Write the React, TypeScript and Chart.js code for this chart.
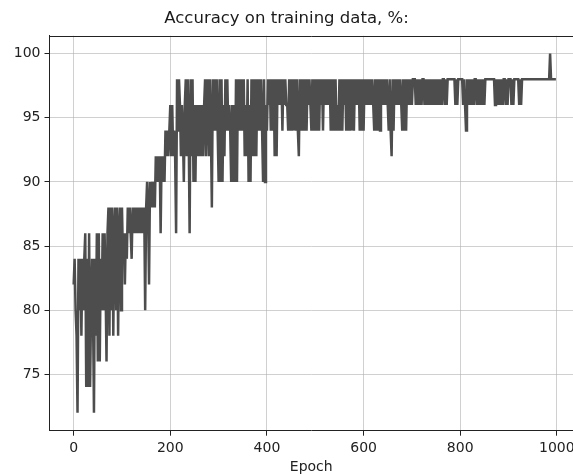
import React, { useEffect, useRef } from "react";
import { Chart, registerables } from "chart.js";

Chart.register(...registerables);

const TITLE = "Accuracy on training data, %:";
const X_LABEL = "Epoch";
const EPOCH_STEP = 2;
const X_TICKS = [0, 200, 400, 600, 800, 1000];
const Y_TICKS = [75, 80, 85, 90, 95, 100];

// accuracy (%) sampled every EPOCH_STEP epochs, epoch 0 .. 998
const ACCURACY = [
  82, 84, 80, 78, 72, 84, 80, 84, 78, 84, 80, 84, 86, 74, 84, 74, 86, 74, 80, 84, 80, 72, 84, 78, 86,
  76, 86, 76, 84, 80, 86, 80, 86, 82, 76, 86, 88, 78, 88, 80, 88, 78, 86, 88, 80, 88, 78, 86, 88, 80,
  88, 84, 86, 82, 86, 84, 88, 86, 88, 86, 84, 88, 86, 88, 86, 88, 86, 88, 86, 88, 86, 88, 86, 88, 80,
  88, 90, 88, 82, 90, 88, 90, 88, 90, 88, 92, 90, 92, 90, 92, 86, 92, 90, 92, 90, 94, 92, 94, 92, 94,
  96, 92, 96, 92, 94, 92, 86, 98, 94, 98, 96, 92, 96, 94, 90, 96, 98, 92, 98, 94, 86, 98, 92, 98, 90,
  96, 90, 96, 92, 96, 92, 96, 92, 96, 92, 96, 98, 92, 98, 96, 92, 98, 94, 88, 98, 94, 98, 94, 98, 94,
  90, 98, 90, 98, 90, 96, 92, 98, 94, 98, 94, 96, 94, 90, 96, 90, 96, 90, 98, 90, 98, 94, 98, 94, 98,
  94, 98, 92, 96, 92, 98, 90, 96, 90, 98, 92, 98, 92, 98, 92, 98, 94, 98, 94, 98, 94, 90, 98, 90, 96,
  94, 98, 96, 98, 94, 98, 94, 98, 92, 98, 92, 98, 96, 98, 96, 98, 94, 98, 96, 98, 96, 96, 94, 98, 94,
  98, 94, 98, 94, 98, 94, 98, 94, 92, 98, 94, 98, 94, 98, 94, 98, 94, 98, 96, 98, 96, 94, 98, 94, 98,
  94, 98, 94, 98, 94, 98, 96, 98, 94, 98, 96, 98, 96, 98, 96, 98, 94, 98, 94, 98, 94, 98, 94, 96, 94,
  98, 94, 98, 94, 98, 96, 98, 94, 98, 94, 98, 94, 98, 94, 98, 94, 98, 96, 98, 96, 98, 94, 98, 94, 98,
  94, 98, 96, 98, 96, 98, 96, 98, 96, 98, 96, 94, 98, 94, 98, 94, 98, 94, 98, 96, 98, 96, 98, 96, 98,
  96, 94, 98, 94, 92, 98, 94, 98, 96, 98, 96, 98, 96, 98, 96, 94, 98, 94, 98, 94, 98, 96, 98, 96, 98,
  96, 98, 98, 98, 96, 98, 96, 98, 96, 98, 96, 98, 98, 96, 98, 96, 98, 96, 98, 96, 98, 96, 98, 96, 98,
  96, 98, 96, 98, 96, 98, 96, 98, 98, 96, 98, 96, 98, 98, 98, 98, 98, 98, 98, 98, 96, 98, 96, 98, 98,
  98, 98, 98, 96, 98, 96, 94, 98, 96, 98, 96, 98, 96, 98, 96, 98, 98, 96, 98, 96, 98, 96, 98, 96, 98,
  96, 98, 98, 98, 98, 98, 98, 98, 98, 98, 98, 96, 98, 96, 98, 96, 98, 96, 98, 96, 98, 98, 96, 98, 96,
  98, 98, 98, 96, 98, 96, 98, 98, 98, 98, 98, 96, 98, 96, 98, 98, 98, 98, 98, 98, 98, 98, 98, 98, 98,
  98, 98, 98, 98, 98, 98, 98, 98, 98, 98, 98, 98, 98, 98, 98, 98, 98, 98, 100, 98, 98, 98, 98, 98, 98,
];

const FONT = "'DejaVu Sans', sans-serif";
const INK = "#222222";
const GRID = "rgba(176,176,176,0.6)";

export default function App() {
  const ref = useRef<HTMLCanvasElement>(null);

  useEffect(() => {
    const canvas = ref.current;
    if (!canvas) return;
    const points = ACCURACY.map((y, i) => ({ x: i * EPOCH_STEP, y }));

    const frame = {
      id: "frame",
      afterDraw(chart: any) {
        const { ctx, chartArea } = chart;
        ctx.save();
        ctx.strokeStyle = INK;
        ctx.lineWidth = 1;
        ctx.beginPath();
        const y = Math.round(chartArea.top) + 0.5;
        ctx.moveTo(chartArea.left, y);
        ctx.lineTo(chartArea.right, y);
        ctx.stroke();
        ctx.restore();
      },
    };

    const chart = new Chart(canvas, {
      type: "line",
      data: {
        datasets: [
          {
            data: points,
            borderColor: "#4d4d4d",
            backgroundColor: "#4d4d4d",
            borderWidth: 2.5,
            pointRadius: 0,
            tension: 0,
            fill: false,
          },
        ],
      },
      options: {
        animation: false,
        responsive: false,
        devicePixelRatio: 1,
        layout: { padding: 0 },
        plugins: {
          legend: { display: false },
          tooltip: { enabled: false },
          title: {
            display: true,
            text: TITLE,
            color: "#1a1a1a",
            font: { family: FONT, size: 16.5, weight: "normal", lineHeight: 1.2 },
            padding: { top: 9, bottom: 6.9 },
          },
        },
        scales: {
          x: {
            type: "linear",
            min: -50,
            max: 1033.4,
            z: 1,
            afterBuildTicks: (s: any) => {
              s.ticks = X_TICKS.map((v) => ({ value: v }));
            },
            afterFit: (s: any) => {
              s.height = 43.3;
              s.paddingLeft = 0;
              s.paddingRight = 0;
            },
            grid: { color: GRID, lineWidth: 1, tickColor: INK, tickLength: 5, drawTicks: true },
            border: { display: true, color: INK, width: 1 },
            ticks: {
              padding: 4,
              color: INK,
              autoSkip: false,
              maxRotation: 0,
              font: { family: FONT, size: 14 },
              callback: (v: any) => String(v),
            },
            title: {
              display: true,
              text: X_LABEL,
              color: INK,
              font: { family: FONT, size: 14, lineHeight: 1 },
              padding: { top: 0, bottom: 0 },
            },
          },
          y: {
            type: "linear",
            min: 70.6,
            max: 101.4,
            z: 1,
            afterBuildTicks: (s: any) => {
              s.ticks = Y_TICKS.map((v) => ({ value: v }));
            },
            afterFit: (s: any) => {
              s.width = 49.5;
              s.paddingTop = 0;
              s.paddingBottom = 0;
            },
            grid: { color: GRID, lineWidth: 1, tickColor: INK, tickLength: 5, drawTicks: true },
            border: { display: true, color: INK, width: 1 },
            ticks: {
              padding: 4,
              color: INK,
              autoSkip: false,
              font: { family: FONT, size: 14 },
              callback: (v: any) => String(v),
            },
          },
        },
      },
      plugins: [frame],
    } as any);

    return () => chart.destroy();
  }, []);

  return (
    <div
      style={{
        position: "fixed",
        left: 0,
        top: 0,
        width: 573,
        height: 474,
        overflow: "hidden",
        background: "#ffffff",
      }}
    >
      <canvas ref={ref} width={573} height={474} style={{ display: "block" }} />
    </div>
  );
}
